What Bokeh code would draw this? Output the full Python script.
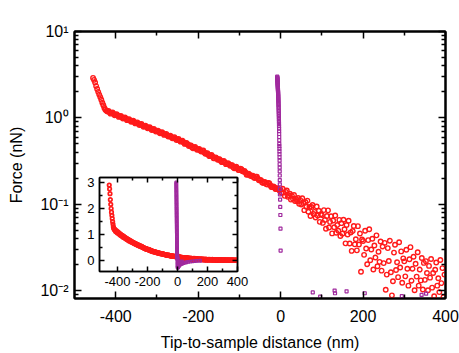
import numpy as np
from bokeh.plotting import figure
from bokeh.models import Range1d, LinearAxis, LogAxis, FixedTicker, CustomJSTickFormatter
from bokeh.embed import file_html
from bokeh.resources import INLINE

# ---------------- data ----------------
red_x_steep = [-455.0, -452.5, -450.0, -447.5, -445.0, -442.5, -440.0, -437.5,
               -435.0, -432.5, -430.0, -427.5, -425.0, -422.5]
red_f_steep = [2.90, 2.75, 2.57, 2.34, 2.16, 2.00, 1.86, 1.74,
               1.62, 1.50, 1.40, 1.30, 1.245, 1.21]

red_x_band = np.arange(-420.0, 0.0, 5.0)
red_f_band = [1.186, 1.161, 1.135, 1.112, 1.087, 1.064, 1.040, 1.019, 0.996, 0.975,
              0.953, 0.933, 0.914, 0.894, 0.875, 0.855, 0.838, 0.819, 0.802, 0.784,
              0.767, 0.750, 0.734, 0.718, 0.703, 0.687, 0.673, 0.658, 0.644, 0.630,
              0.615, 0.601, 0.587, 0.574, 0.561, 0.547, 0.540, 0.519, 0.505, 0.492,
              0.479, 0.458, 0.454, 0.443, 0.431, 0.420, 0.417, 0.398, 0.387, 0.372,
              0.367, 0.358, 0.340, 0.340, 0.330, 0.316, 0.313, 0.305, 0.292, 0.290,
              0.282, 0.268, 0.267, 0.261, 0.249, 0.254, 0.239, 0.233, 0.219, 0.220,
              0.214, 0.204, 0.208, 0.197, 0.191, 0.180, 0.181, 0.171, 0.176, 0.166,
              0.158, 0.157, 0.150, 0.148]

red_x_band_mid = np.arange(-417.5, 0.0, 5.0)
red_f_band_mid = [1.203, 1.119, 1.152, 1.072, 1.102, 1.026, 1.055, 0.982, 1.010, 0.940,
                  0.967, 0.900, 0.927, 0.862, 0.887, 0.825, 0.849, 0.790, 0.813, 0.756,
                  0.777, 0.723, 0.744, 0.693, 0.712, 0.663, 0.682, 0.635, 0.653, 0.607,
                  0.623, 0.579, 0.595, 0.553, 0.568, 0.530, 0.543, 0.499, 0.511, 0.473,
                  0.480, 0.445, 0.460, 0.426, 0.436, 0.408, 0.418, 0.383, 0.389, 0.360,
                  0.372, 0.340, 0.349, 0.327, 0.331, 0.307, 0.317, 0.291, 0.298, 0.279,
                  0.282, 0.261, 0.271, 0.249, 0.258, 0.240, 0.242, 0.220, 0.225, 0.212,
                  0.214, 0.201, 0.208, 0.189, 0.190, 0.176, 0.180, 0.169, 0.175, 0.158,
                  0.161, 0.150, 0.153, 0.144]

red_x_tail = np.arange(0.0, 400.0, 2.5)
red_f_tail = [0.147, 0.136, 0.151, 0.136, 0.125, 0.139, 0.144, 0.122, 0.127, 0.132,
              0.113, 0.125, 0.116, 0.128, 0.109, 0.115, 0.108, 0.118, 0.101, 0.112,
              0.0991, 0.117, 0.103, 0.0853, 0.106, 0.0933, 0.110, 0.0818, 0.0931, 0.0731,
              0.0929, 0.0980, 0.0771, 0.0815, 0.0702, 0.0942, 0.0740, 0.0841, 0.0625, 0.0766,
              0.0748, 0.0607, 0.0855, 0.0656, 0.0519, 0.0731, 0.0849, 0.0537, 0.0624, 0.0724,
              0.0459, 0.0647, 0.0540, 0.0740, 0.0468, 0.0574, 0.0493, 0.0658, 0.0428, 0.0603,
              0.0456, 0.0661, 0.0512, 0.0352, 0.0574, 0.0445, 0.0644, 0.0351, 0.0470, 0.0288,
              0.0489, 0.0560, 0.0343, 0.0393, 0.0292, 0.0557, 0.0341, 0.0457, 0.0165, 0.0390,
              0.0375, 0.0259, 0.0492, 0.0307, 0.0202, 0.0384, 0.0512, 0.0224, 0.0299, 0.0398,
              0.0175, 0.0332, 0.0241, 0.0436, 0.0191, 0.0281, 0.0215, 0.0370, 0.0170, 0.0324,
              0.0208, 0.0357, 0.0102, 0.0153, 0.0310, 0.0220, 0.0378, 0.0163, 0.0088, 0.0128,
              0.0275, 0.0339, 0.0173, 0.0213, 0.0143, 0.0362, 0.0185, 0.0284, 0.0123, 0.0236,
              0.0218, 0.0146, 0.0297, 0.0179, 0.0114, 0.0230, 0.0318, 0.0130, 0.0179, 0.0246,
              0.0101, 0.0204, 0.0145, 0.0278, 0.0114, 0.0175, 0.0131, 0.0238, 0.0103, 0.0209,
              0.0133, 0.0219, 0.0160, 0.0101, 0.0193, 0.0141, 0.0232, 0.0108, 0.0160, 0.0086,
              0.0174, 0.0211, 0.0114, 0.0139, 0.0096, 0.0226, 0.0122, 0.0182, 0.0084, 0.0153]

purple_x_approach = [-8.2, -8.1, -8.0, -7.9, -7.8, -7.7, -7.6, -7.5, -7.4, -7.3,
                     -7.2, -7.1, -7.0, -6.9, -6.8, -6.7, -6.6, -6.5, -6.4, -6.3,
                     -6.2, -6.1, -6.0, -5.9, -5.8, -5.7, -5.6, -5.5, -5.4, -5.3,
                     -5.2, -5.1, -5.0, -4.9, -4.8, -4.7, -4.6, -4.5, -4.4, -4.3,
                     -4.2, -4.1, -4.0, -3.9, -3.8, -3.7, -3.6, -3.5, -3.4, -3.3, -3.2,
                     -3.0, -2.9, -2.8, -2.7, -2.6, -2.5, -2.4, -2.3, -2.2, -2.1,
                     -2.0, -1.9, -1.8, -1.7, -1.2, -0.9, -0.6, -0.3, 0.0]
purple_f_approach = [3.00, 2.95, 2.90, 2.85, 2.80, 2.75, 2.70, 2.65, 2.60, 2.55,
                     2.50, 2.45, 2.40, 2.35, 2.30, 2.25, 2.20, 2.15, 2.10, 2.05,
                     2.00, 1.95, 1.90, 1.85, 1.80, 1.75, 1.70, 1.65, 1.60, 1.55,
                     1.50, 1.45, 1.40, 1.35, 1.30, 1.25, 1.20, 1.15, 1.10, 1.05,
                     1.00, 0.95, 0.90, 0.85, 0.80, 0.75, 0.70, 0.65, 0.60, 0.55, 0.50,
                     0.47, 0.44, 0.41, 0.38, 0.35, 0.32, 0.29, 0.265, 0.24, 0.215,
                     0.19, 0.17, 0.15, 0.13, 0.113, 0.093, 0.075, 0.052, 0.029]

purple_x_dip = [0.2, 0.4, 0.6, 0.8, 1.0, 1.2, 1.5, 2.0, 3.0, 5.0, 7.0, 10.0, 14.0,
                20.0, 26.0, 32.0, 40.0, 50.0, 60.0, 72.0, 85.0, 100.0, 115.0, 130.0, 150.0,
                2.0, 4.0, 6.0, 9.0, 12.0, 16.0, 20.0, 25.0, 30.0]
purple_f_dip = [-0.03, -0.08, -0.13, -0.18, -0.22, -0.25, -0.27, -0.27, -0.26, -0.24,
                -0.22, -0.20, -0.17, -0.15, -0.13, -0.115, -0.10, -0.08, -0.065, -0.05,
                -0.04, -0.03, -0.02, -0.015, -0.008,
                -0.12, -0.15, -0.08, -0.12, -0.06, -0.09, -0.04, -0.07, -0.03]

purple_x_tail = [78, 96, 131, 132, 160, 204, 294, 342, 353, 40, 60, 110, 180, 230, 260, 320, 380, 398]
purple_f_tail = [0.0095, 0.0085, 0.010, 0.0093, 0.0098, 0.0093, 0.0086, 0.0089, 0.0092,
                 0.004, -0.003, 0.002, -0.004, 0.005, -0.002, 0.003, -0.005, 0.001]

x_major = [-400, -200, 0, 200, 400]
x_minor = [-300, -100, 100, 300]
log_major = [0.01, 0.1, 1, 10]
log_minor = [m * d for d in (0.001, 0.01, 0.1, 1) for m in range(2, 10)]
inset_y_major = [0, 1, 2, 3]
inset_y_minor = [0.5, 1.5, 2.5]

RED = "#ff1a1a"
PURPLE = "#a02a9e"
FONT = "Liberation Sans"

red_x = np.concatenate([red_x_steep, red_x_band, red_x_band_mid, red_x_tail])
red_f = np.concatenate([red_f_steep, red_f_band, red_f_band_mid, red_f_tail])
pur_x = np.concatenate([purple_x_approach, purple_x_dip, purple_x_tail])
pur_f = np.concatenate([purple_f_approach, purple_f_dip, purple_f_tail])
pos = pur_f > 0

sup_fmt = CustomJSTickFormatter(code="""
const m = {"-": "\\u207b", "0": "\\u2070", "1": "\\u00b9", "2": "\\u00b2", "3": "\\u00b3"};
const e = Math.round(Math.log10(tick)).toString();
let s = "";
for (const c of e) { s += m[c]; }
return "10" + s;
""")
plain_fmt = CustomJSTickFormatter(code="return Math.round(tick).toString();")
blank_fmt = CustomJSTickFormatter(code="return '';")


def style_axis(ax, major_in, minor_in, lw, font_size):
    ax.axis_line_width = lw
    ax.axis_line_color = "black"
    ax.major_tick_in = major_in
    ax.major_tick_out = 0
    ax.minor_tick_in = minor_in
    ax.minor_tick_out = 0
    ax.major_tick_line_width = 1.5
    ax.minor_tick_line_width = 1.5
    ax.major_tick_line_color = "black"
    ax.minor_tick_line_color = "black"
    ax.major_label_text_font = FONT
    ax.major_label_text_font_size = font_size
    ax.major_label_text_color = "black"
    ax.axis_label_text_font = FONT
    ax.axis_label_text_font_size = "16px"
    ax.axis_label_text_font_style = "normal"
    ax.axis_label_text_color = "black"


# ---------------- main figure ----------------
p = figure(width=459, height=353,
           x_range=Range1d(-500, 400), y_range=Range1d(0.00809, 10),
           y_axis_type="log", output_backend="svg", toolbar_location=None,
           min_border_left=74, min_border_right=14, min_border_top=31, min_border_bottom=54)
p.grid.visible = False
p.outline_line_color = "black"
p.outline_line_width = 2

xt = FixedTicker(ticks=x_major, minor_ticks=x_minor)
yt = FixedTicker(ticks=log_major, minor_ticks=log_minor)

p.xaxis.ticker = xt
p.xaxis.formatter = plain_fmt
p.yaxis.ticker = yt
p.yaxis.formatter = sup_fmt
p.xaxis.axis_label = "Tip-to-sample distance (nm)"
p.yaxis.axis_label = "Force (nN)"
for ax in p.xaxis + p.yaxis:
    style_axis(ax, 7, 4, 2, "16px")
p.xaxis.major_label_standoff = 11
p.xaxis.axis_label_standoff = 9
p.yaxis.major_label_standoff = 6
p.yaxis.axis_label_standoff = 12

top_ax = LinearAxis(ticker=xt, formatter=blank_fmt)
right_ax = LogAxis(ticker=yt, formatter=blank_fmt)
style_axis(top_ax, 7, 4, 2, "16px")
style_axis(right_ax, 7, 4, 2, "16px")
p.add_layout(top_ax, "above")
p.add_layout(right_ax, "right")

p.scatter(red_x, red_f, marker="circle", size=4.5, fill_color=None,
          line_color=RED, line_width=1.4)
p.scatter(pur_x[pos], pur_f[pos], marker="square", size=3, fill_color=None,
          line_color=PURPLE, line_width=1.2)

# ---------------- inset ----------------
ins = figure(width=174, height=119,
             x_range=Range1d(-520, 400), y_range=Range1d(-0.42, 3.19),
             output_backend="svg", toolbar_location=None,
             min_border_left=22, min_border_right=14, min_border_top=3, min_border_bottom=22,
             background_fill_alpha=0, border_fill_alpha=0)
ins.grid.visible = False
ins.outline_line_color = "black"
ins.outline_line_width = 1.5
ixt = FixedTicker(ticks=x_major, minor_ticks=x_minor)
iyt = FixedTicker(ticks=inset_y_major, minor_ticks=inset_y_minor)
ins.xaxis.ticker = ixt
ins.xaxis.formatter = plain_fmt
ins.yaxis.ticker = iyt
for ax in ins.xaxis + ins.yaxis:
    style_axis(ax, 5, 3, 1.5, "13px")
    ax.major_label_standoff = 5
ins_top = LinearAxis(ticker=ixt, formatter=blank_fmt)
ins_right = LinearAxis(ticker=iyt, formatter=blank_fmt)
style_axis(ins_top, 5, 3, 1.5, "13px")
style_axis(ins_right, 5, 3, 1.5, "13px")
ins.add_layout(ins_top, "above")
ins.add_layout(ins_right, "right")

ins.scatter(purple_x_tail, purple_f_tail, marker="square", size=2.5, fill_color=None,
            line_color=PURPLE, line_width=1.2)
ins.scatter(red_x, red_f, marker="circle", size=3.5, fill_color=None,
            line_color=RED, line_width=1.7)
ins.scatter(np.concatenate([purple_x_approach, purple_x_dip]),
            np.concatenate([purple_f_approach, purple_f_dip]),
            marker="square", size=2.5, fill_color=None, line_color=PURPLE, line_width=1.3)

ins.styles = {"position": "absolute", "left": "77px", "top": "174px"}

open("out.html", "w").write(file_html([p, ins], INLINE))
